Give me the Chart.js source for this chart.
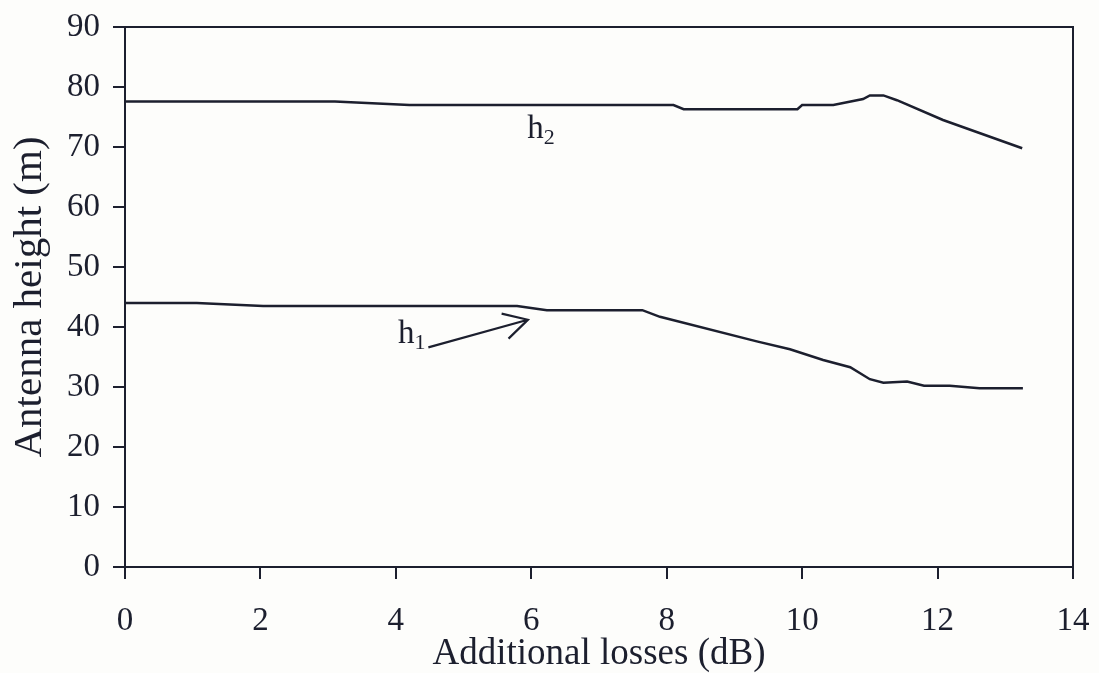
<!DOCTYPE html>
<html>
<head>
<meta charset="utf-8">
<script src="https://cdn.jsdelivr.net/npm/chart.js@4.4.1/dist/chart.umd.min.js"></script>
<style>
  html, body { margin: 0; padding: 0; background: #fdfdfb; }
  #wrap { width: 1099px; height: 673px; }
</style>
</head>
<body>
<div id="wrap"><canvas id="myChart" width="1099" height="673"></canvas></div>
<script>
// h2 - upper antenna height curve
const h2X = [0, 3.1, 4.2, 8.1, 8.25, 9.93, 10.0, 10.46, 10.9, 11.0, 11.2, 11.4, 12.08, 13.25];
const h2Y = [77.6, 77.6, 77.0, 77.0, 76.3, 76.3, 77.0, 77.0, 78.0, 78.6, 78.6, 77.8, 74.5, 69.8];

// h1 - lower antenna height curve
const h1X = [0, 1.06, 2.04, 5.79, 6.23, 7.64, 7.9, 9.33, 9.82, 10.31, 10.71, 11.0, 11.2, 11.55, 11.8, 12.18, 12.62, 13.26];
const h1Y = [44.0, 44.0, 43.5, 43.5, 42.8, 42.8, 41.7, 37.6, 36.3, 34.5, 33.3, 31.3, 30.7, 30.9, 30.2, 30.2, 29.8, 29.8];

const xTicks = [0, 2, 4, 6, 8, 10, 12, 14];
const yTicks = [0, 10, 20, 30, 40, 50, 60, 70, 80, 90];

const ink = '#1c1f2e';
const serif = '"Liberation Serif", "DejaVu Serif", serif';

function pts(xs, ys) {
    return xs.map((x, i) => ({ x: x, y: ys[i] }));
}

// frame + curve labels + arrow, placed in data coordinates
const extras = {
    id: 'extras',
    afterDraw(chart) {
        const ctx = chart.ctx;
        const a = chart.chartArea;
        const xs = chart.scales.x, ys = chart.scales.y;
        ctx.save();
        ctx.strokeStyle = ink;
        ctx.lineWidth = 2;
        ctx.strokeRect(a.left, a.top, a.right - a.left, a.bottom - a.top);

        ctx.fillStyle = ink;
        ctx.textBaseline = 'alphabetic';
        function label(x, y, sub) {
            const px = xs.getPixelForValue(x), py = ys.getPixelForValue(y);
            ctx.font = '33px ' + serif;
            ctx.fillText('h', px, py);
            const w = ctx.measureText('h').width;
            ctx.font = '22px ' + serif;
            ctx.fillText(sub, px + w, py + 6);
        }
        label(5.94, 71.5, '2');
        label(4.03, 37.3, '1');

        // arrow from h1 label towards curve
        const x0 = xs.getPixelForValue(4.48), y0 = ys.getPixelForValue(36.6);
        const x1 = xs.getPixelForValue(5.95), y1 = ys.getPixelForValue(41.2);
        ctx.lineWidth = 2.2;
        ctx.beginPath();
        ctx.moveTo(x0, y0);
        ctx.lineTo(x1, y1);
        const ang = Math.atan2(y1 - y0, x1 - x0);
        const len = 27;
        ctx.moveTo(x1 - len * Math.cos(ang - 0.5), y1 - len * Math.sin(ang - 0.5));
        ctx.lineTo(x1, y1);
        ctx.lineTo(x1 - len * Math.cos(ang + 0.5), y1 - len * Math.sin(ang + 0.5));
        ctx.stroke();
        ctx.restore();
    }
};

const config = {
    type: 'line',
    data: {
        datasets: [
        {
            label: 'h2',
            data: pts(h2X, h2Y),
            borderColor: ink,
            borderWidth: 2.5,
            pointRadius: 0,
            tension: 0,
            fill: false,
        },
        {
            label: 'h1',
            data: pts(h1X, h1Y),
            borderColor: ink,
            borderWidth: 2.5,
            pointRadius: 0,
            tension: 0,
            fill: false,
        },
        ]
    },
    options: {
        responsive: false,
        animation: false,
        devicePixelRatio: 1,
        layout: { padding: { top: 27, right: 26, left: 0, bottom: 0 } },
        plugins: {
            legend: { display: false },
            tooltip: { enabled: false },
        },
        scales: {
            x: {
                type: 'linear',
                min: 0, max: 14,
                afterBuildTicks: s => { s.ticks = xTicks.map(v => ({ value: v })); },
                afterFit: s => { s.height = 106; s.paddingLeft = 0; s.paddingRight = 0; },
                grid: { drawOnChartArea: false, drawTicks: true, tickLength: 12, color: ink, lineWidth: 2 },
                border: { color: ink, width: 2 },
                ticks: { color: ink, font: { family: serif, size: 33 }, padding: 23, maxRotation: 0 },
                title: {
                    display: true,
                    text: 'Additional losses (dB)',
                    color: ink,
                    font: { family: serif, size: 37, lineHeight: 1.0 },
                    padding: { top: 0, bottom: 0 },
                },
            },
            y: {
                min: 0, max: 90,
                afterBuildTicks: s => { s.ticks = yTicks.map(v => ({ value: v })); },
                afterFit: s => { s.width = 125; s.paddingTop = 0; s.paddingBottom = 0; },
                grid: { drawOnChartArea: false, drawTicks: true, tickLength: 12, color: ink, lineWidth: 2 },
                border: { color: ink, width: 2 },
                ticks: { color: ink, font: { family: serif, size: 33 }, padding: 13 },
                title: {
                    display: true,
                    text: 'Antenna height (m)',
                    color: ink,
                    font: { family: serif, size: 41 },
                    padding: { top: 6, bottom: 0 },
                },
            }
        }
    },
    plugins: [extras],
};

new Chart(document.getElementById('myChart').getContext('2d'), config);
</script>
</body>
</html>
